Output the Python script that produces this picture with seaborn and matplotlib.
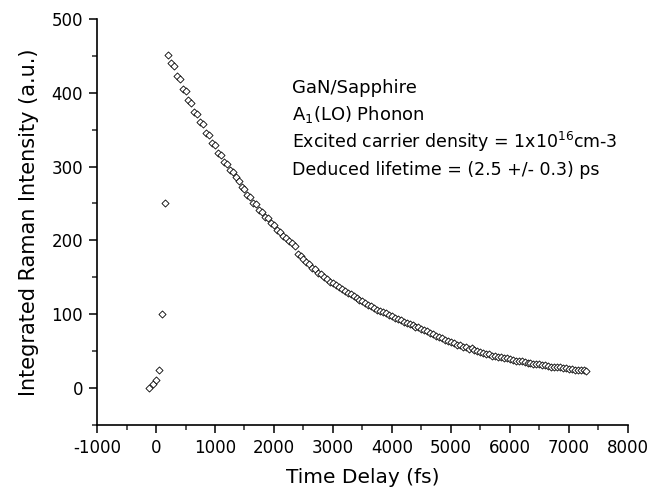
import numpy as np
import pandas as pd
import seaborn as sns
import matplotlib.pyplot as plt
from matplotlib.ticker import MultipleLocator

# rising edge (around zero delay)
rise_time = [-113, -57, 0, 45, 96, 153]
rise_val = [0, 6, 11, 25, 100, 250]

# decay part, delay stage steps of 50 fs from 200 fs
decay_time = np.arange(200, 7301, 50)
decay_val = [451, 440, 436, 422, 419, 405, 402, 390, 386, 374,
             371, 360, 357, 346, 343, 332, 329, 319, 316, 306,
             304, 295, 292, 286, 281, 272, 270, 261, 259, 251,
             249, 241, 239, 232, 230, 223, 221, 214, 212, 206,
             203, 199, 196, 192, 181, 179, 175, 171, 168, 163,
             161, 156, 154, 150, 148, 144, 142, 139, 137, 134,
             132, 129, 127, 124, 122, 119, 118, 115, 113, 111,
             109, 106, 105, 103, 101, 99, 97, 95, 94, 92,
             90, 88, 87, 85, 83, 82, 80, 78, 77, 75,
             73, 71, 69, 68, 65, 64, 62, 61, 58, 58,
             56, 55, 53, 54, 52, 50, 49, 48, 46, 46,
             44, 43, 42, 42, 40, 40, 39, 38, 37, 36,
             36, 35, 34, 34, 33, 32, 32, 31, 31, 30,
             29, 29, 28, 28, 27, 27, 26, 26, 25, 25,
             24, 24, 23]

df = pd.DataFrame({"delay": list(rise_time) + list(decay_time),
                   "intensity": rise_val + decay_val})

sns.set_style("ticks")
plt.rcParams['font.family'] = ['DejaVu Sans']
plt.rcParams['axes.unicode_minus'] = False
plt.rcParams['text.color'] = 'black'
plt.rcParams['axes.labelcolor'] = 'black'

fig = plt.figure(figsize=(6.65, 4.97), dpi=100)
ax = fig.add_axes([0.146, 0.145, 0.798, 0.817])

sns.scatterplot(data=df, x="delay", y="intensity", ax=ax, marker="D", s=13,
                facecolor="white", edgecolor="black", linewidth=0.6)

ax.set_xlim(-1000, 8000)
ax.set_ylim(-50, 500)
ax.xaxis.set_major_locator(MultipleLocator(1000))
ax.xaxis.set_minor_locator(MultipleLocator(500))
ax.yaxis.set_major_locator(MultipleLocator(100))
ax.yaxis.set_minor_locator(MultipleLocator(50))
ax.set_yticks([0, 100, 200, 300, 400, 500])
ax.tick_params(which="major", direction="out", length=6, width=1.1, labelsize=12, colors="black", pad=4)
ax.tick_params(which="minor", direction="out", length=3.5, width=1.1)
for side in ["top", "right"]:
    ax.spines[side].set_visible(False)
for side in ["left", "bottom"]:
    ax.spines[side].set_linewidth(1.2)
    ax.spines[side].set_color("black")

ax.set_xlabel("Time Delay (fs)", fontsize=14.5, labelpad=8)
ax.set_ylabel("Integrated Raman Intensity (a.u.)", fontsize=15, labelpad=9)

tx = 0.367
ax.text(tx, 0.818, "GaN/Sapphire", transform=ax.transAxes, fontsize=13, va="baseline")
ax.text(tx, 0.750, "A$_1$(LO) Phonon", transform=ax.transAxes, fontsize=13, va="baseline")
ax.text(tx, 0.682, "Excited carrier density = 1x10$^{16}$cm-3", transform=ax.transAxes,
        fontsize=12.5, va="baseline")
ax.text(tx, 0.616, "Deduced lifetime = (2.5 +/- 0.3) ps", transform=ax.transAxes,
        fontsize=12.5, va="baseline")

fig.savefig("out.png", dpi=100)
